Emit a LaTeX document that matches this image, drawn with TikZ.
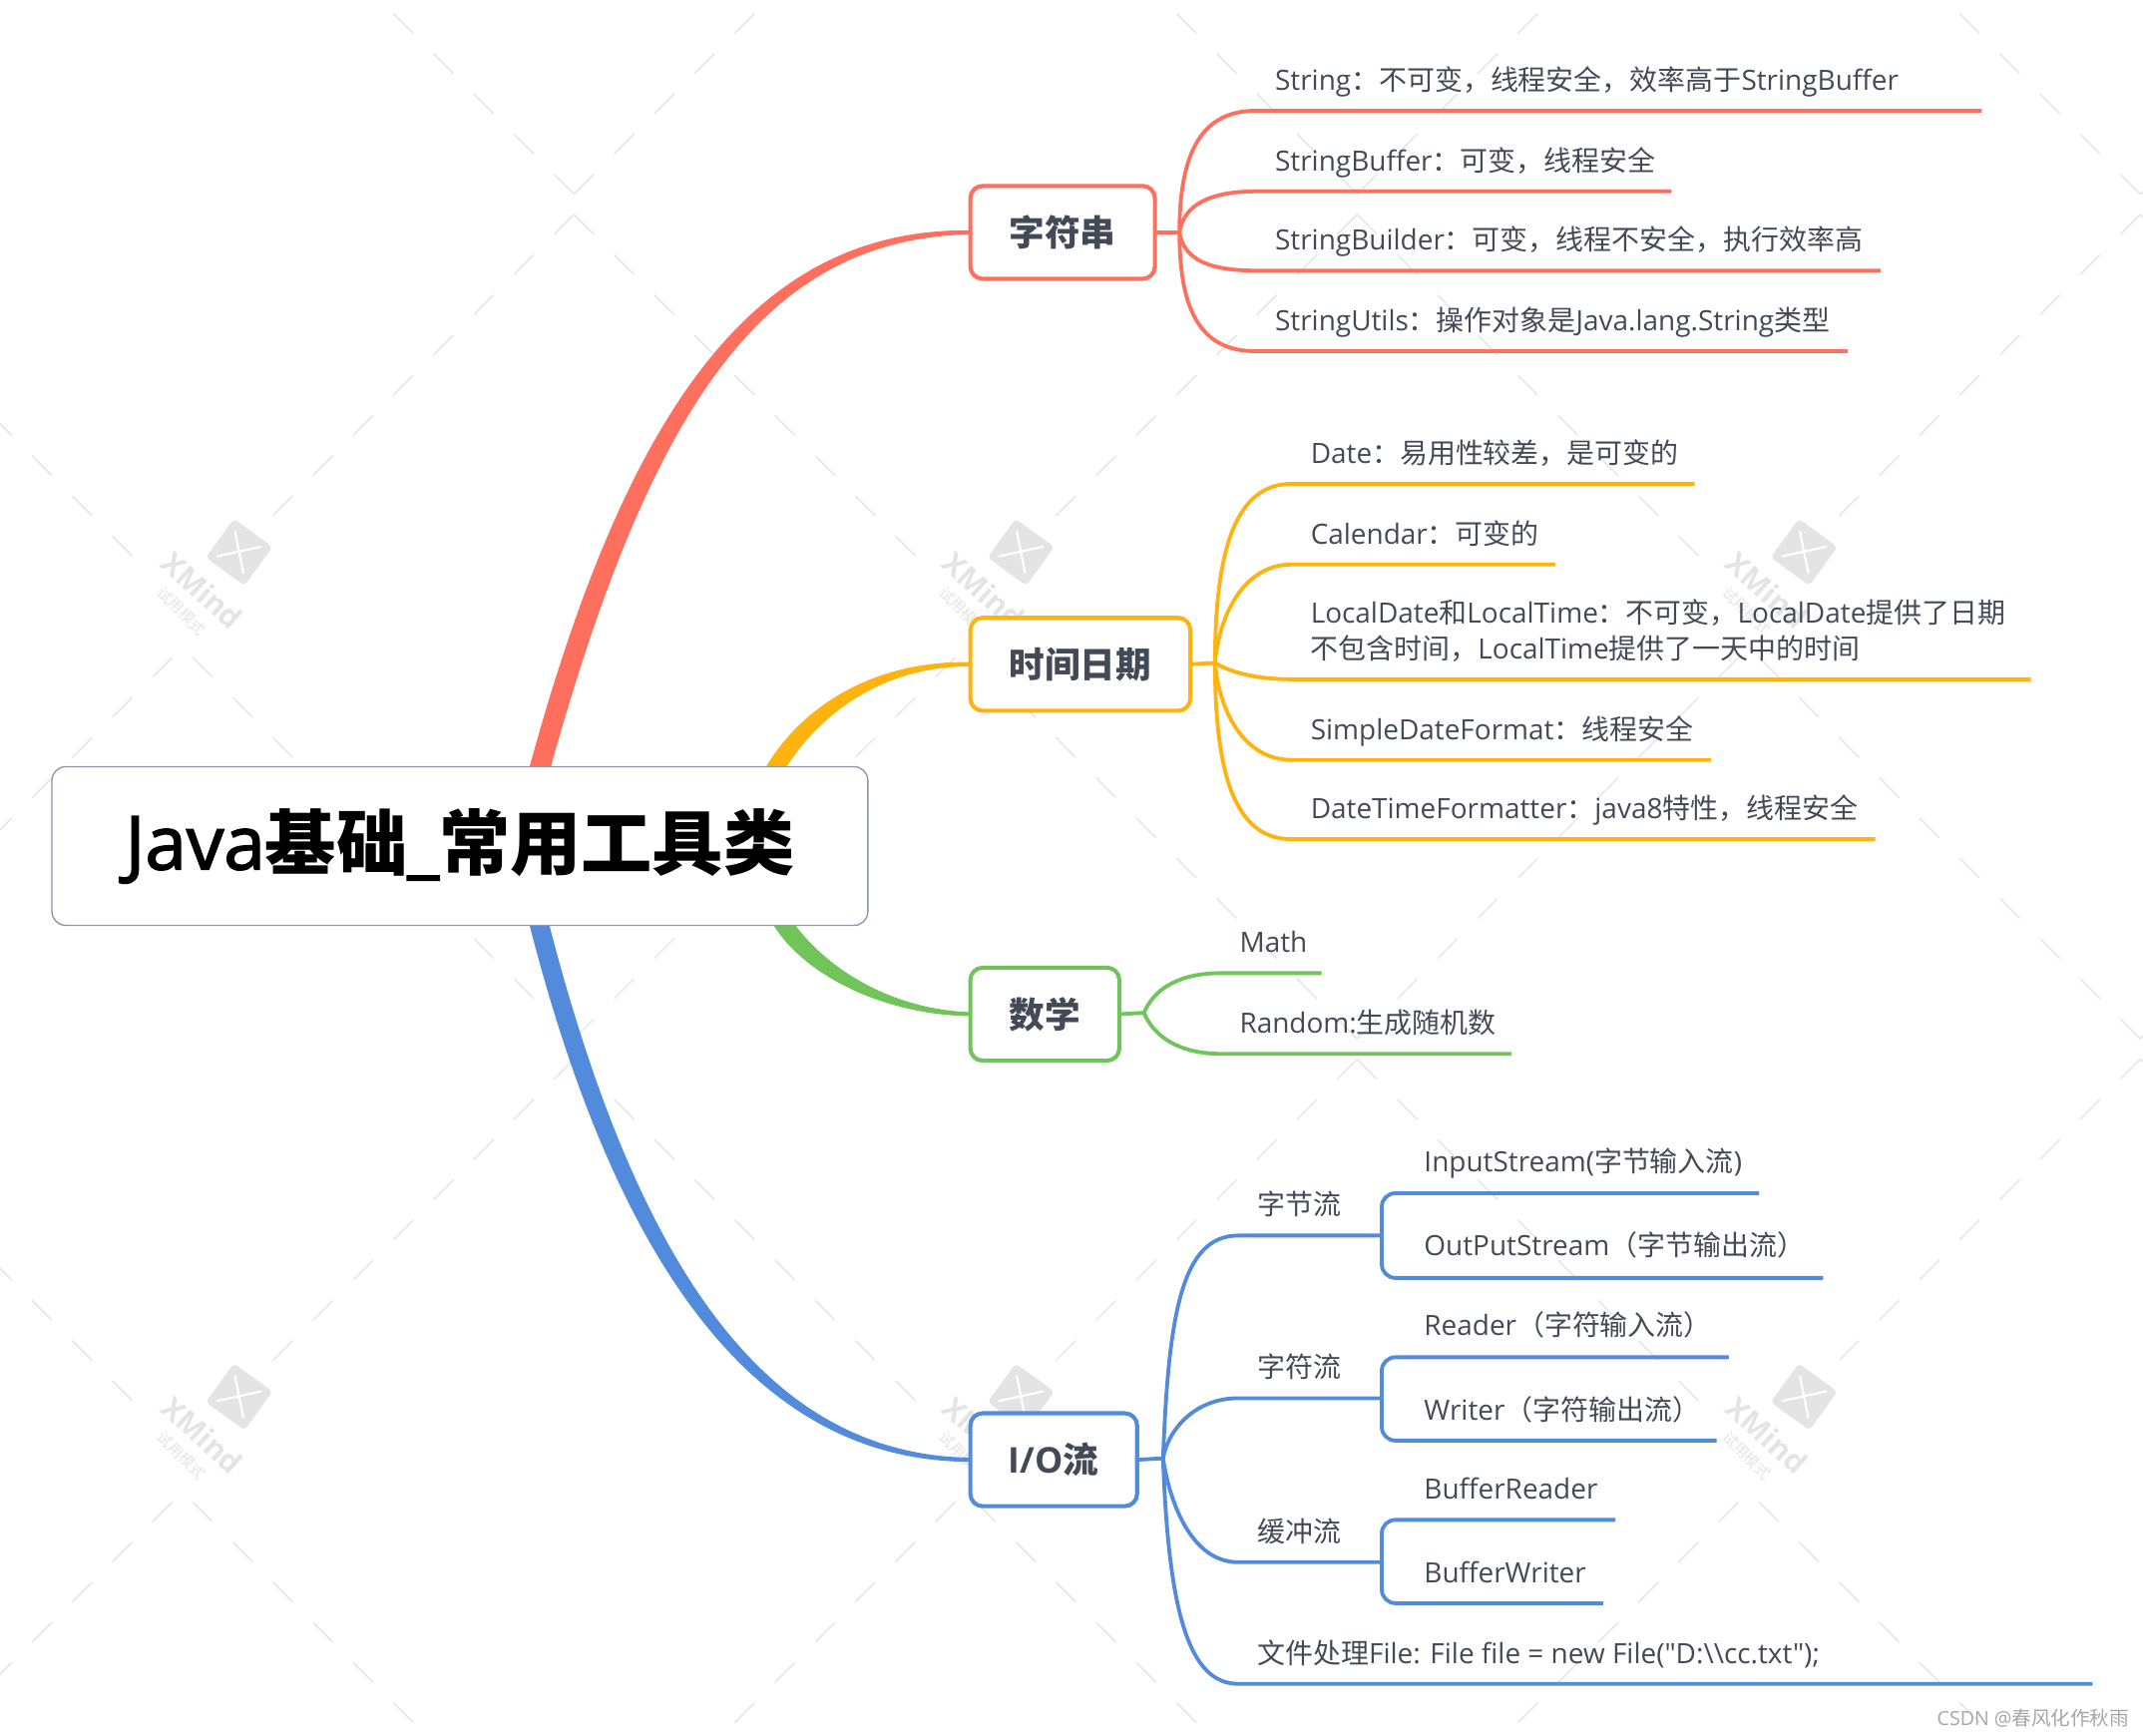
\documentclass[tikz,border=0pt]{standalone}
\usepackage{fontspec}
\setmainfont{Open Sans}
\newfontfamily\cjk{Noto Sans CJK SC}
\newfontfamily\plainfont{Open Sans}
\newfontfamily\rootfont[FakeBold=2]{Open Sans}
\newcommand{\cn}[1]{{\cjk #1}}
\newcommand{\cnb}[1]{{\cjk\bfseries #1}}
\definecolor{strcol}{HTML}{FF6F5E}
\definecolor{timecol}{HTML}{FFB30F}
\definecolor{mathcol}{HTML}{70C45A}
\definecolor{iocol}{HTML}{528BDB}
\definecolor{inkcol}{HTML}{424A55}
\definecolor{wmcol}{HTML}{E4E4E4}
\definecolor{rootcol}{HTML}{8C97AB}
\tikzset{
  rootbox/.style={draw=#1, fill=white, line width=1pt, rounded corners=10pt, inner sep=0pt, outer sep=0pt},
  topic/.style={draw=#1, fill=white, line width=3pt, rounded corners=9pt, anchor=north west, inner sep=0pt, outer sep=0pt, minimum height=68pt, text=inkcol, font=\fontsize{26}{30}\selectfont\bfseries},
  leaf/.style={anchor=south west, inner xsep=14pt, inner ysep=15pt, outer sep=0pt, text depth=0pt, text=inkcol, align=left, font=\fontsize{20.4}{26.5}\selectfont},
  twig/.style={draw=#1, line width=2.8pt},
  wmdash/.style={wmcol, line width=1pt}
}

\begin{document}
\begin{tikzpicture}[x=1pt, y=-1pt]
    \useasboundingbox (0,0) rectangle (1568,1270);
    \clip (0,0) rectangle (1568,1270);

    % Watermark
    \foreach \cx in {-153,420,993,1566} {
      \foreach \cy in {149,767,1385} {
        \foreach \k in {0,...,9} {
          \draw[wmdash] ({\cx-29.4*\k},{\cy-7-29.4*\k}) -- ++(-14.5,-14.5);
          \draw[wmdash] ({\cx+29.4*\k},{\cy-7-29.4*\k}) -- ++(14.5,-14.5);
        }
        \foreach \k in {0,...,7} {
          \draw[wmdash] ({\cx-29.4*\k},{\cy+8+29.4*\k}) -- ++(-14.5,14.5);
        }
        \foreach \k in {0,...,8} {
          \draw[wmdash] ({\cx+29.4*\k},{\cy+8+29.4*\k}) -- ++(14.5,14.5);
        }
      }
    }
    \foreach \lx in {175,747,1320} {
      \foreach \ly in {404,1022} {
        \node[fill=wmcol, rotate=-36, rounded corners=3pt, minimum size=35pt, inner sep=0pt] (logo-\lx-\ly) at (\lx,\ly) {};
        \draw[white, line width=1.6pt, line cap=round] ({\lx-3},{\ly-15}) -- ({\lx+3},{\ly+15});
        \draw[white, line width=1.6pt, line cap=round] ({\lx-16},{\ly+3}) -- ({\lx+16},{\ly-4});
        \node[wmcol, rotate=-42, font=\fontsize{22}{22}\selectfont\bfseries, inner sep=0pt] (mark-\lx-\ly) at ({\lx-27},{\ly+28}) {XMind};
        \node[wmcol, rotate=-45, font=\fontsize{11}{11}\selectfont, inner sep=0pt] (try-\lx-\ly) at ({\lx-42},{\ly+43}) {\cn{试用模式}};
      }
    }

    % Topics
    \node[topic=strcol, minimum width=135pt] (hstr) at (710,136) {\raisebox{1pt}{\cnb{字符串}}};
    \node[topic=timecol, minimum width=161pt] (htime) at (710,452) {\raisebox{1pt}{\cnb{时间日期}}};
    \node[topic=mathcol, minimum width=109pt] (hmath) at (710,708) {\raisebox{1pt}{\cnb{数学}}};
    \node[topic=iocol, minimum width=122pt] (hio) at (710,1034) {\raisebox{1pt}{I/O\cnb{流}}};

    % Trunks
    \coordinate (rstr) at (395,590);
    \coordinate (rtime) at (560,580);
    \coordinate (rmath) at (565,660);
    \coordinate (rio) at (395,650);
    \fill[strcol] ([xshift=-7.5pt]rstr) -- (387.5,561) .. controls (462,288) and (558,167) .. ([yshift=1.5pt]hstr.west) -- ([yshift=-1.5pt]hstr.west) .. controls (562,174.5) and (478,292) .. (403,561) -- ([xshift=7.5pt]rstr) -- cycle;
    \fill[timecol] ([xshift=-7pt]rtime) -- (560.5,561) .. controls (586,518) and (638,483) .. ([yshift=1.5pt]htime.west) -- ([yshift=-1.5pt]htime.west) .. controls (642,487.5) and (598,526) .. (575.5,561) -- ([xshift=22pt]rtime) -- cycle;
    \fill[mathcol] (rmath) -- (566,677) .. controls (590,715) and (648,742.5) .. ([yshift=-1.5pt]hmath.west) -- ([yshift=1.5pt]hmath.west) .. controls (652,738.5) and (606,709) .. (582,677) -- ([xshift=22pt]rmath) -- cycle;
    \fill[iocol] ([xshift=-7.5pt]rio) -- (387.5,677) .. controls (458,952) and (568,1069.5) .. ([yshift=-1.5pt]hio.west) -- ([yshift=1.5pt]hio.west) .. controls (572,1064.5) and (472,948) .. (402,677) -- ([xshift=7.5pt]rio) -- cycle;

    % Root
    \node[rootbox=rootcol, minimum width=597pt, minimum height=116pt, font=\fontsize{52}{60}\selectfont, text=black] (root) at (336.5,619) {\raisebox{-2pt}{{\rootfont\fontsize{54.5}{60}\selectfont Java}\cnb{基础}{\rootfont\_}\cnb{常用工具类}}};

    % String branch
    \coordinate (hubs) at (863,170);
    \draw[twig=strcol] (hstr.east) -- (hubs);
    \node[leaf] (s1) at (919,81) {String\cn{：不可变，线程安全，效率高于}StringBuffer};
    \node[leaf] (s2) at (919,140) {StringBuffer\cn{：可变，线程安全}};
    \node[leaf] (s3) at (919,198) {StringBuilder\cn{：可变，线程不安全，执行效率高}};
    \node[leaf] (s4) at (919,257) {StringUtils\cn{：操作对象是}Java.lang.String\cn{类型}};
    \coordinate (s1e) at (1450,81);
    \coordinate (s2e) at (1223,140);
    \coordinate (s3e) at (1376,198);
    \coordinate (s4e) at (1352,257);
    \draw[twig=strcol] (hubs) .. controls (863,110) and (880,81) .. (s1.south west) -- (s1e);
    \draw[twig=strcol] (hubs) .. controls (866,150) and (885,140) .. (s2.south west) -- (s2e);
    \draw[twig=strcol] (hubs) .. controls (866,190) and (885,198) .. (s3.south west) -- (s3e);
    \draw[twig=strcol] (hubs) .. controls (863,230) and (880,257) .. (s4.south west) -- (s4e);

    % Date branch
    \coordinate (hubt) at (889,485);
    \draw[twig=timecol] (htime.east) -- (hubt);
    \node[leaf] (t1) at (945,354) {Date\cn{：易用性较差，是可变的}};
    \node[leaf] (t2) at (945,413) {Calendar\cn{：可变的}};
    \node[leaf] (t3) at (945,497) {LocalDate\cn{和}LocalTime\cn{：不可变，}LocalDate\cn{提供了日期}\\\cn{不包含时间，}LocalTime\cn{提供了一天中的时间}};
    \node[leaf] (t4) at (945,556) {SimpleDateFormat\cn{：线程安全}};
    \node[leaf] (t5) at (945,614) {DateTimeFormatter\cn{：}java8\cn{特性，线程安全}};
    \coordinate (t1e) at (1240,354);
    \coordinate (t2e) at (1138,413);
    \coordinate (t3e) at (1486,497);
    \coordinate (t4e) at (1252,556);
    \coordinate (t5e) at (1372,614);
    \draw[twig=timecol] (hubt) .. controls (889,400) and (905,354) .. (t1.south west) -- (t1e);
    \draw[twig=timecol] (hubt) .. controls (892,450) and (910,413) .. (t2.south west) -- (t2e);
    \draw[twig=timecol] (hubt) .. controls (900,492) and (920,497) .. (t3.south west) -- (t3e);
    \draw[twig=timecol] (hubt) .. controls (892,520) and (910,556) .. (t4.south west) -- (t4e);
    \draw[twig=timecol] (hubt) .. controls (889,570) and (905,614) .. (t5.south west) -- (t5e);

    % Math branch
    \coordinate (hubm) at (837,741);
    \draw[twig=mathcol] (hmath.east) -- (hubm);
    \node[leaf] (m1) at (893,712) {Math};
    \node[leaf] (m2) at (893,771) {Random:\cn{生成随机数}};
    \coordinate (m1e) at (967,712);
    \coordinate (m2e) at (1106,771);
    \draw[twig=mathcol] (hubm) .. controls (845,722) and (865,712) .. (m1.south west) -- (m1e);
    \draw[twig=mathcol] (hubm) .. controls (845,760) and (865,771) .. (m2.south west) -- (m2e);

    % I/O branch
    \coordinate (hubi) at (851,1067);
    \draw[twig=iocol] (hio.east) -- (hubi);
    \node[leaf] (i1) at (906,904) {\cn{字节流}};
    \node[leaf] (i2) at (906,1023) {\cn{字符流}};
    \node[leaf] (i3) at (906,1143) {\cn{缓冲流}};
    \node[leaf] (i4) at (906,1232) {\cn{文件处理}{\plainfont File: File file = new File("D:\textbackslash\textbackslash cc.txt");}};
    \coordinate (i1e) at (1011,904);
    \coordinate (i2e) at (1011,1023);
    \coordinate (i3e) at (1011,1143);
    \coordinate (i4e) at (1531,1232);
    \draw[twig=iocol] (hubi) .. controls (855,960) and (865,904) .. (i1.south west) -- (i1e);
    \draw[twig=iocol] (hubi) .. controls (855,1045) and (875,1023) .. (i2.south west) -- (i2e);
    \draw[twig=iocol] (hubi) .. controls (855,1095) and (870,1143) .. (i3.south west) -- (i3e);
    \draw[twig=iocol] (hubi) .. controls (855,1180) and (870,1232) .. (i4.south west) -- (i4e);

    % Stream leaves
    \node[leaf, inner ysep=16pt] (a1) at (1028,873) {InputStream(\cn{字节输入流})};
    \node[leaf, inner ysep=16pt] (a2) at (1028,935) {OutPutStream\cn{（字节输出流）}};
    \node[leaf, inner ysep=16pt] (b1) at (1028,993) {Reader\cn{（字符输入流）}};
    \node[leaf] (b2) at (1028,1054) {Writer\cn{（字符输出流）}};
    \node[leaf] (c1) at (1028,1112) {BufferReader};
    \node[leaf] (c2) at (1028,1173) {BufferWriter};
    \coordinate (a1e) at (1287,873);
    \coordinate (a2e) at (1334,935);
    \coordinate (b1e) at (1265,993);
    \coordinate (b2e) at (1256,1054);
    \coordinate (c1e) at (1182,1112);
    \coordinate (c2e) at (1173,1173);
    \draw[twig=iocol, rounded corners=10pt] (i1e) |- (a1e);
    \draw[twig=iocol, rounded corners=10pt] (i1e) |- (a2e);
    \draw[twig=iocol, rounded corners=10pt] (i2e) |- (b1e);
    \draw[twig=iocol, rounded corners=10pt] (i2e) |- (b2e);
    \draw[twig=iocol, rounded corners=10pt] (i3e) |- (c1e);
    \draw[twig=iocol, rounded corners=10pt] (i3e) |- (c2e);

    % Credit
    \node[anchor=east, text=gray!70, inner sep=0pt, font=\fontsize{14.3}{14.3}\selectfont] (credit) at (1558,1257) {CSDN @\cn{春风化作秋雨}};
\end{tikzpicture}
\end{document}
